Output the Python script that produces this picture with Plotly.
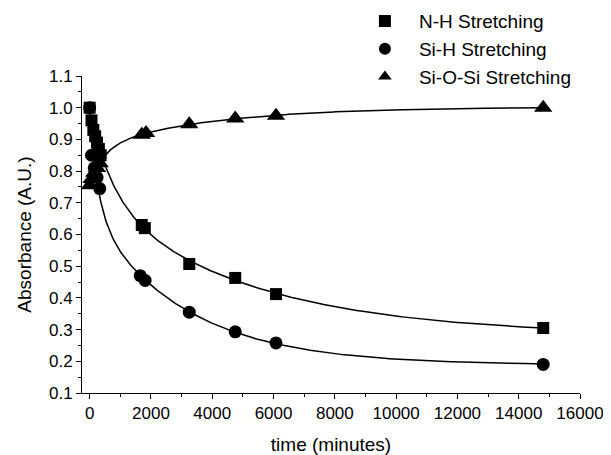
import numpy as np
import plotly.graph_objects as go

# ---- data ----
nh_time = [0, 60, 120, 180, 240, 300, 360, 1700, 1800, 3250, 4750, 6080, 14800]
nh_abs = [1.00, 0.96, 0.93, 0.91, 0.89, 0.87, 0.85, 0.63, 0.62, 0.507, 0.463, 0.412, 0.305]

sih_time = [0, 60, 150, 240, 330, 1650, 1810, 3250, 4750, 6080, 14800]
sih_abs = [1.00, 0.85, 0.81, 0.78, 0.745, 0.47, 0.455, 0.355, 0.293, 0.258, 0.19]

sios_time = [0, 60, 150, 240, 330, 1700, 1840, 3250, 4750, 6080, 14800]
sios_abs = [0.755, 0.775, 0.795, 0.81, 0.825, 0.915, 0.92, 0.948, 0.966, 0.975, 1.00]

series_names = ["N-H Stretching", "Si-H Stretching", "Si-O-Si Stretching"]
series_symbols = ["square", "circle", "triangle-up"]
series_sizes = [12, 13, 16]

x_ticks = list(range(0, 16001, 2000))
y_ticks = [round(0.1 * i, 1) for i in range(1, 12)]


def fit_curve(t, y):
    """Weighted least-squares bi-exponential fit of the data (grid search on time constants)."""
    t = np.asarray(t, float)
    y = np.asarray(y, float)
    w = np.where(t < 500, 0.4, 1.0)
    best = None
    for t1 in np.logspace(1.0, 3.6, 45):
        for t2 in np.logspace(2.8, 4.7, 45):
            if t2 <= t1:
                continue
            A = np.column_stack([np.ones_like(t), np.exp(-t / t1), np.exp(-t / t2)])
            coef, *_ = np.linalg.lstsq(A * w[:, None], y * w, rcond=None)
            r = np.sum(((A @ coef - y) * w) ** 2)
            if best is None or r < best[0]:
                best = (r, t1, t2, coef)
    _, t1, t2, coef = best
    xs = np.linspace(0, t.max(), 400)
    ys = coef[0] + coef[1] * np.exp(-xs / t1) + coef[2] * np.exp(-xs / t2)
    return xs, ys


fig = go.Figure()
all_series = [(nh_time, nh_abs), (sih_time, sih_abs), (sios_time, sios_abs)]

for (t, y) in all_series:
    xs, ys = fit_curve(t, y)
    fig.add_trace(go.Scatter(x=xs, y=ys, mode="lines",
                             line=dict(color="black", width=1.5),
                             showlegend=False, hoverinfo="skip"))

for i, (t, y) in enumerate(all_series):
    fig.add_trace(go.Scatter(x=t, y=y, mode="markers", name=series_names[i],
                             marker=dict(symbol=series_symbols[i], size=series_sizes[i],
                                         color="black", line=dict(width=0))))

FONT = "Liberation Sans, Arial, sans-serif"
axis_font = dict(family=FONT, size=17, color="black")

# the page body adds an 8 px offset, so the figure is drawn 8 px smaller
fig.update_layout(
    width=603, height=447,
    margin=dict(l=74, r=31, t=68, b=62, autoexpand=False),
    paper_bgcolor="white", plot_bgcolor="white",
    font=dict(family=FONT, color="black"),
    showlegend=True,
    legend=dict(x=0.540, y=1.233, xanchor="left", yanchor="top",
                font=dict(size=19, family=FONT),
                traceorder="normal", tracegroupgap=0,
                itemwidth=58,
                bgcolor="rgba(0,0,0,0)", itemsizing="constant"),
    xaxis=dict(range=[-250, 16000], tickvals=x_ticks, ticktext=[str(v) for v in x_ticks],
               automargin=False, ticklabeloverflow="allow",
               showgrid=False, zeroline=False, showline=True, linecolor="black", linewidth=1,
               ticks="outside", ticklen=5, tickcolor="black", tickfont=axis_font,
               minor=dict(dtick=1000, tick0=0, ticks="outside", ticklen=3, tickcolor="black"),
               title=dict(text="time (minutes)", font=dict(size=19), standoff=17)),
    yaxis=dict(range=[0.1, 1.1], tickvals=y_ticks, ticktext=[f"{v:.1f}" for v in y_ticks],
               automargin=False, ticklabeloverflow="allow",
               showgrid=False, zeroline=False, showline=True, linecolor="black", linewidth=1,
               ticks="outside", ticklen=5, tickcolor="black", tickfont=axis_font,
               minor=dict(dtick=0.05, tick0=0.1, ticks="outside", ticklen=3, tickcolor="black"),
               title=dict(text="Absorbance (A.U.)", font=dict(size=19), standoff=12)),
)

fig.write_html("out.html")
